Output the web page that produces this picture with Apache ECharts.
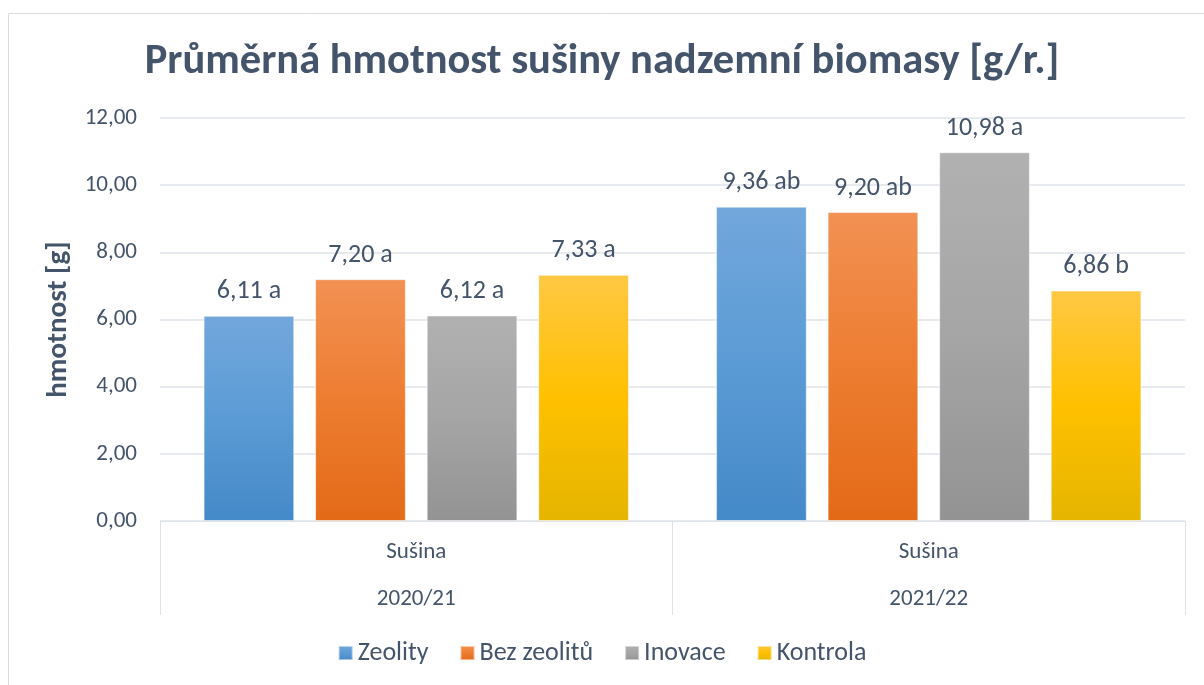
<!DOCTYPE html>
<html lang="cs">
<head>
<meta charset="UTF-8">
<title>Průměrná hmotnost sušiny nadzemní biomasy</title>
<script src="https://cdn.jsdelivr.net/npm/echarts@6/dist/echarts.min.js"></script>
<style>
  html, body { margin: 0; padding: 0; background: #fff; }
  #main { width: 1204px; height: 685px; }
</style>
</head>
<body>
<div id="main"></div>
<script type="text/javascript">
// data
var parts = ['Sušina', 'Sušina'];
var years = ['2020/21', '2021/22'];
var zeolity = [6.11, 9.36];
var bezZeolitu = [7.20, 9.20];
var inovace = [6.12, 10.98];
var kontrola = [7.33, 6.86];
var letters = {
  'Zeolity': ['a', 'ab'],
  'Bez zeolitů': ['a', 'ab'],
  'Inovace': ['a', 'a'],
  'Kontrola': ['a', 'b']
};
var yTicks = [0, 2, 4, 6, 8, 10, 12];

var textColor = '#44546a';
var lineColor = '#dfe3e8';
var font = 'Carlito, Lato, "Noto Sans", sans-serif';

function grad(top, mid, bottom) {
  return new echarts.graphic.LinearGradient(0, 0, 0, 1, [
    { offset: 0, color: top },
    { offset: 0.5, color: mid },
    { offset: 1, color: bottom }
  ]);
}

function comma(v) {
  return v.toFixed(2).replace('.', ',');
}

function makeSeries(name, data, color) {
  return {
    name: name,
    type: 'bar',
    xAxisIndex: 0,
    data: data,
    barGap: '23%',
    barCategoryGap: '17%',
    itemStyle: { color: color, borderColor: 'rgba(255,255,255,0.5)', borderWidth: 1 },
    label: {
      show: true,
      position: 'top',
      distance: 11,
      color: textColor,
      fontFamily: font,
      fontSize: 26,
      formatter: function (p) {
        return comma(p.value) + ' ' + letters[name][p.dataIndex];
      }
    }
  };
}

var myChart = echarts.init(document.getElementById('main'));
myChart.setOption({
  animation: false,
  graphic: [{
    type: 'rect',
    shape: { x: 8.5, y: 13.5, width: 1210, height: 690 },
    style: { fill: 'none', stroke: '#d9dde3', lineWidth: 1 },
    silent: true
  }],
  title: {
    text: 'Průměrná hmotnost sušiny nadzemní biomasy [g/r.]',
    left: 'center',
    top: 36,
    textStyle: { color: textColor, fontFamily: font, fontSize: 42.5, fontWeight: 'bold' }
  },
  legend: {
    bottom: 14,
    left: 'center',
    itemWidth: 14,
    itemHeight: 14,
    itemGap: 31,
    icon: 'rect',
    textStyle: { color: textColor, fontFamily: font, fontSize: 26 },
    data: ['Zeolity', 'Bez zeolitů', 'Inovace', 'Kontrola']
  },
  grid: { left: 160, right: 19, top: 118, bottom: 164 },
  xAxis: [{
    type: 'category',
    data: parts,
    position: 'bottom',
    axisLine: { show: true, lineStyle: { color: lineColor, width: 1 } },
    axisTick: { show: true, inside: false, length: 94, lineStyle: { color: lineColor, width: 1 } },
    axisLabel: { color: textColor, fontFamily: font, fontSize: 23, margin: 20 }
  }, {
    type: 'category',
    data: years,
    position: 'bottom',
    gridIndex: 0,
    axisLine: { show: false },
    axisTick: { show: false },
    axisLabel: { color: textColor, fontFamily: font, fontSize: 23, margin: 67 }
  }],
  yAxis: {
    type: 'value',
    min: yTicks[0],
    max: yTicks[yTicks.length - 1],
    interval: 2,
    name: 'hmotnost [g]',
    nameLocation: 'middle',
    nameGap: 83,
    nameRotate: 90,
    nameTextStyle: { color: textColor, fontFamily: font, fontSize: 29, fontWeight: 'bold' },
    axisLine: { show: false },
    axisTick: { show: false },
    axisLabel: {
      color: textColor, fontFamily: font, fontSize: 23, margin: 23,
      formatter: function (v) { return comma(v); }
    },
    splitLine: { lineStyle: { color: lineColor, width: 1.5 } }
  },
  series: [
    makeSeries('Zeolity', zeolity, grad('#72a7dc', '#5b9bd5', '#4489c8')),
    makeSeries('Bez zeolitů', bezZeolitu, grad('#f29153', '#ed7d31', '#e36a17')),
    makeSeries('Inovace', inovace, grad('#b1b1b1', '#a5a5a5', '#939393')),
    makeSeries('Kontrola', kontrola, grad('#ffc844', '#ffc000', '#e5b500'))
  ]
});
</script>
</body>
</html>
